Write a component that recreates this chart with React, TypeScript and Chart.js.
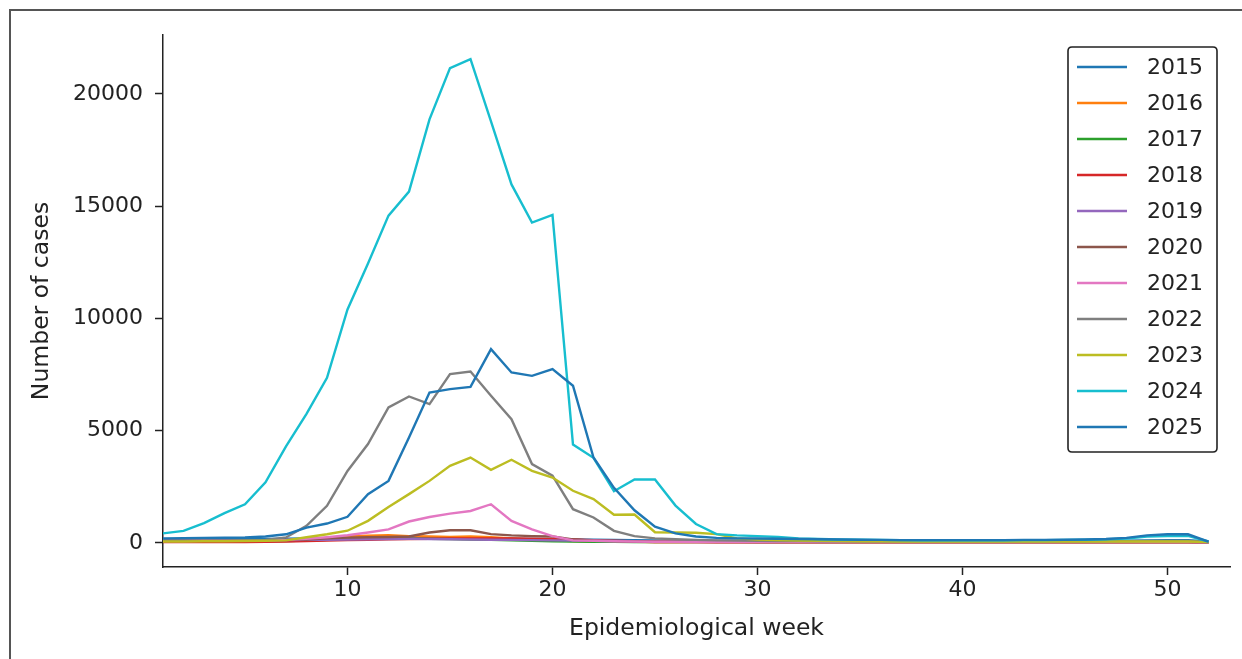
import React, { useEffect, useRef } from "react";
import Chart from "chart.js/auto";

const weeks: number[] = Array.from({ length: 52 }, (_, i) => i + 1);
const years: string[] = ["2015", "2016", "2017", "2018", "2019", "2020", "2021", "2022", "2023", "2024", "2025"];
const colors: string[] = ["#1f77b4", "#ff7f0e", "#2ca02c", "#d62728", "#9467bd", "#8c564b", "#e377c2", "#7f7f7f", "#bcbd22", "#17becf", "#1f77b4"];

const y2015 = [150, 150, 160, 160, 170, 170, 180, 190, 200, 210, 220, 230, 230, 220, 210, 200, 190, 180, 170, 160, 150, 140, 130, 120, 110, 100, 100, 90, 90, 90, 80, 80, 80, 80, 80, 80, 80, 80, 80, 80, 80, 80, 80, 80, 80, 90, 90, 100, 110, 120, 120, 60];
const y2016 = [60, 60, 60, 70, 80, 90, 110, 150, 220, 280, 320, 340, 300, 280, 260, 280, 250, 200, 150, 110, 80, 60, 50, 50, 40, 40, 40, 40, 30, 30, 30, 30, 30, 30, 30, 30, 30, 30, 30, 30, 30, 30, 30, 30, 30, 30, 30, 30, 40, 40, 40, 20];
const y2017 = [50, 50, 60, 60, 60, 70, 80, 100, 130, 160, 180, 200, 190, 180, 170, 150, 130, 110, 90, 70, 60, 50, 50, 40, 40, 40, 30, 30, 30, 30, 30, 30, 30, 30, 30, 30, 30, 30, 30, 30, 30, 30, 30, 30, 30, 30, 30, 30, 30, 30, 30, 20];
const y2018 = [30, 30, 30, 40, 40, 50, 60, 80, 100, 120, 140, 160, 170, 180, 190, 200, 200, 190, 180, 170, 150, 120, 90, 60, 40, 30, 30, 20, 20, 20, 20, 20, 20, 20, 20, 20, 20, 20, 20, 20, 20, 20, 20, 20, 20, 20, 20, 20, 20, 20, 20, 10];
const y2019 = [100, 100, 100, 100, 110, 110, 120, 130, 140, 150, 160, 170, 180, 170, 160, 150, 140, 130, 120, 110, 100, 90, 80, 70, 60, 60, 50, 50, 50, 50, 50, 50, 50, 50, 50, 50, 50, 50, 50, 50, 50, 50, 50, 50, 50, 50, 50, 50, 50, 50, 50, 30];
const y2020 = [100, 100, 100, 110, 110, 120, 130, 150, 200, 230, 250, 260, 280, 460, 560, 560, 390, 330, 300, 280, 150, 100, 80, 70, 60, 60, 50, 50, 50, 40, 40, 40, 40, 40, 40, 40, 40, 40, 40, 40, 40, 40, 40, 40, 40, 40, 40, 40, 40, 40, 40, 20];
const y2021 = [80, 80, 90, 90, 100, 110, 130, 180, 250, 340, 460, 600, 950, 1150, 1300, 1420, 1720, 980, 600, 300, 110, 90, 70, 60, 50, 50, 40, 40, 40, 40, 40, 40, 40, 40, 40, 40, 40, 40, 40, 40, 40, 40, 40, 40, 40, 40, 40, 40, 40, 40, 40, 20];
const y2022 = [100, 100, 110, 110, 120, 130, 240, 760, 1650, 3200, 4400, 6030, 6520, 6180, 7520, 7630, 6550, 5510, 3510, 2990, 1500, 1130, 535, 300, 200, 160, 130, 110, 100, 90, 80, 80, 70, 70, 60, 60, 60, 60, 60, 60, 60, 60, 60, 60, 60, 60, 70, 70, 80, 80, 80, 40];
const y2023 = [60, 60, 70, 70, 80, 90, 110, 250, 380, 540, 980, 1600, 2170, 2760, 3430, 3800, 3250, 3700, 3210, 2910, 2320, 1950, 1250, 1260, 470, 460, 450, 390, 200, 150, 120, 100, 90, 80, 70, 70, 60, 60, 60, 60, 60, 60, 60, 60, 60, 60, 60, 60, 60, 60, 60, 30];
const y2024 = [420, 530, 880, 1320, 1720, 2700, 4300, 5750, 7350, 10400, 12450, 14580, 15650, 18870, 21150, 21550, 18780, 15970, 14270, 14610, 4380, 3790, 2300, 2820, 2820, 1660, 840, 390, 330, 300, 260, 200, 170, 150, 140, 130, 120, 110, 110, 110, 110, 110, 120, 120, 130, 140, 160, 190, 280, 300, 310, 60];
const y2025 = [200, 210, 220, 230, 240, 280, 380, 680, 860, 1160, 2170, 2760, 4690, 6700, 6850, 6950, 8630, 7590, 7440, 7740, 7000, 3800, 2450, 1450, 720, 420, 280, 220, 200, 190, 180, 170, 160, 150, 140, 130, 120, 120, 120, 120, 120, 120, 130, 130, 140, 150, 170, 220, 330, 380, 380, 50];

const series: number[][] = [y2015, y2016, y2017, y2018, y2019, y2020, y2021, y2022, y2023, y2024, y2025];

const xTicks: number[] = [10, 20, 30, 40, 50];
const yTicks: number[] = [0, 5000, 10000, 15000, 20000];

const FONT = "'DejaVu Sans', sans-serif";

const legendPlugin = {
  id: "boxLegend",
  afterDraw(chart: any) {
    const { ctx, chartArea } = chart;
    const w = 149;
    const h = 405;
    const left = chartArea.right - 13 - w;
    const top = chartArea.top + 12;
    ctx.save();
    ctx.beginPath();
    const r = 4;
    ctx.moveTo(left + r, top);
    ctx.lineTo(left + w - r, top);
    ctx.quadraticCurveTo(left + w, top, left + w, top + r);
    ctx.lineTo(left + w, top + h - r);
    ctx.quadraticCurveTo(left + w, top + h, left + w - r, top + h);
    ctx.lineTo(left + r, top + h);
    ctx.quadraticCurveTo(left, top + h, left, top + h - r);
    ctx.lineTo(left, top + r);
    ctx.quadraticCurveTo(left, top, left + r, top);
    ctx.closePath();
    ctx.fillStyle = "rgba(255,255,255,0.85)";
    ctx.fill();
    ctx.lineWidth = 1.6;
    ctx.strokeStyle = "#222";
    ctx.stroke();
    ctx.font = `22px ${FONT}`;
    ctx.textBaseline = "middle";
    ctx.textAlign = "left";
    years.forEach((yr, i) => {
      const cy = top + 20 + i * 36;
      ctx.beginPath();
      ctx.moveTo(left + 9, cy);
      ctx.lineTo(left + 59, cy);
      ctx.strokeStyle = colors[i];
      ctx.lineWidth = 2.4;
      ctx.stroke();
      ctx.fillStyle = "#222";
      ctx.fillText(yr, left + 79, cy + 1);
    });
    ctx.restore();
  },
};

export default function App() {
  const ref = useRef<HTMLCanvasElement | null>(null);
  useEffect(() => {
    if (!ref.current) return;
    const n = series.length;
    const chart = new Chart(ref.current, {
      type: "line",
      data: {
        datasets: series.map((vals, i) => ({
          label: years[i],
          data: weeks.map((w, j) => ({ x: w, y: vals[j] })),
          borderColor: colors[i],
          backgroundColor: colors[i],
          borderWidth: 2.4,
          pointRadius: 0,
          tension: 0,
          fill: false,
          order: n - i,
        })),
      },
      options: {
        animation: false,
        responsive: false,
        devicePixelRatio: 1,
        layout: { padding: { left: 0, top: 35, right: 12, bottom: 0 } },
        plugins: { legend: { display: false }, tooltip: { enabled: false } },
        scales: {
          x: {
            type: "linear",
            min: 1,
            max: 53.05,
            afterFit: (s: any) => {
              s.height = 92;
            },
            afterBuildTicks: (s: any) => {
              s.ticks = xTicks.map((v) => ({ value: v }));
            },
            grid: { drawOnChartArea: false, drawTicks: true, tickLength: 8, tickColor: "#222", tickWidth: 1.5 },
            border: { display: true, color: "#222", width: 1.5 },
            ticks: { color: "#222", font: { family: FONT, size: 22 }, padding: 2, maxRotation: 0, callback: (v: any) => String(v) },
            title: { display: true, text: "Epidemiological week", color: "#222", font: { family: FONT, size: 23.5 }, padding: { top: 0, bottom: 16 } },
          },
          y: {
            type: "linear",
            min: -1077,
            max: 22627,
            afterFit: (s: any) => {
              s.width = 163;
            },
            afterBuildTicks: (s: any) => {
              s.ticks = yTicks.map((v) => ({ value: v }));
            },
            grid: { drawOnChartArea: false, drawTicks: true, tickLength: 8, tickColor: "#222", tickWidth: 1.5 },
            border: { display: true, color: "#222", width: 1.5 },
            ticks: { color: "#222", font: { family: FONT, size: 22 }, padding: 12, callback: (v: any) => String(v) },
            title: { display: true, text: "Number of cases", color: "#222", font: { family: FONT, size: 23.5 }, padding: { top: 28, bottom: 0 } },
          },
        },
      },
      plugins: [legendPlugin],
    });
    return () => chart.destroy();
  }, []);

  return (
    <div style={{ position: "fixed", left: 0, top: 0, width: 1242, height: 659, background: "#fff", overflow: "hidden" }}>
      <canvas ref={ref} width={1242} height={659} style={{ position: "absolute", left: 0, top: 0, width: 1242, height: 659 }} />
      <div style={{ position: "absolute", left: 9, top: 9, width: 1240, height: 660, borderTop: "2px solid #555", borderLeft: "2px solid #555", pointerEvents: "none" }} />
    </div>
  );
}
